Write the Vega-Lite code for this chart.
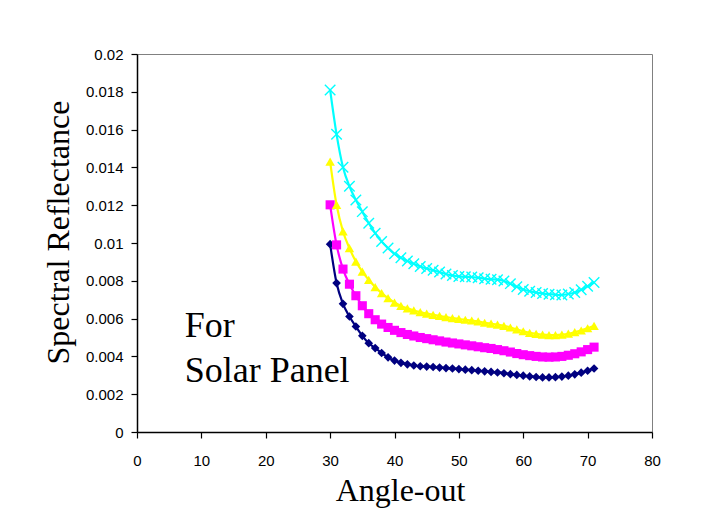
{
  "$schema": "https://vega.github.io/schema/vega-lite/v6.json",
  "width": 515,
  "height": 378,
  "autosize": {"type": "none"},
  "padding": {"left": 137, "top": 54, "right": 61, "bottom": 95},
  "background": "white",
  "config": {
    "view": {"stroke": "#808080", "strokeWidth": 1},
    "axis": {
      "grid": false,
      "domainColor": "black",
      "domainWidth": 1.5,
      "tickColor": "black",
      "tickWidth": 1.2,
      "tickSize": 6,
      "labelFont": "Liberation Sans",
      "labelFontSize": 15,
      "labelColor": "black",
      "titleFont": "Times New Roman",
      "titleFontSize": 32,
      "titleFontWeight": "normal",
      "titleColor": "black",
      "labelFlush": false
    }
  },
  "data": {
    "values": [
      {"s":"n","a":30,"r":0.00994},{"s":"n","a":31,"r":0.00788},{"s":"n","a":32,"r":0.00678},{"s":"n","a":33,"r":0.00611},{"s":"n","a":34,"r":0.00558},{"s":"n","a":35,"r":0.00509},{"s":"n","a":36,"r":0.0047},{"s":"n","a":37,"r":0.00444},{"s":"n","a":38,"r":0.00418},{"s":"n","a":39,"r":0.00395},{"s":"n","a":40,"r":0.00378},{"s":"n","a":41,"r":0.00366},{"s":"n","a":42,"r":0.00358},{"s":"n","a":43,"r":0.00352},{"s":"n","a":44,"r":0.00348},{"s":"n","a":45,"r":0.00346},{"s":"n","a":46,"r":0.00344},{"s":"n","a":47,"r":0.00341},{"s":"n","a":48,"r":0.00338},{"s":"n","a":49,"r":0.00336},{"s":"n","a":50,"r":0.00333},{"s":"n","a":51,"r":0.0033},{"s":"n","a":52,"r":0.00327},{"s":"n","a":53,"r":0.00324},{"s":"n","a":54,"r":0.00321},{"s":"n","a":55,"r":0.00318},{"s":"n","a":56,"r":0.00315},{"s":"n","a":57,"r":0.00311},{"s":"n","a":58,"r":0.00306},{"s":"n","a":59,"r":0.00302},{"s":"n","a":60,"r":0.00298},{"s":"n","a":61,"r":0.00294},{"s":"n","a":62,"r":0.00291},{"s":"n","a":63,"r":0.00289},{"s":"n","a":64,"r":0.00289},{"s":"n","a":65,"r":0.0029},{"s":"n","a":66,"r":0.00293},{"s":"n","a":67,"r":0.00298},{"s":"n","a":68,"r":0.00305},{"s":"n","a":69,"r":0.00314},{"s":"n","a":70,"r":0.00324},{"s":"n","a":71,"r":0.00336},
      {"s":"m","a":30,"r":0.01202},{"s":"m","a":31,"r":0.0099},{"s":"m","a":32,"r":0.00862},{"s":"m","a":33,"r":0.00782},{"s":"m","a":34,"r":0.00721},{"s":"m","a":35,"r":0.00668},{"s":"m","a":36,"r":0.00626},{"s":"m","a":37,"r":0.00594},{"s":"m","a":38,"r":0.00571},{"s":"m","a":39,"r":0.00553},{"s":"m","a":40,"r":0.00538},{"s":"m","a":41,"r":0.00526},{"s":"m","a":42,"r":0.00516},{"s":"m","a":43,"r":0.00508},{"s":"m","a":44,"r":0.005},{"s":"m","a":45,"r":0.00494},{"s":"m","a":46,"r":0.00488},{"s":"m","a":47,"r":0.00482},{"s":"m","a":48,"r":0.00476},{"s":"m","a":49,"r":0.00471},{"s":"m","a":50,"r":0.00466},{"s":"m","a":51,"r":0.00461},{"s":"m","a":52,"r":0.00456},{"s":"m","a":53,"r":0.00451},{"s":"m","a":54,"r":0.00446},{"s":"m","a":55,"r":0.00442},{"s":"m","a":56,"r":0.00436},{"s":"m","a":57,"r":0.0043},{"s":"m","a":58,"r":0.00423},{"s":"m","a":59,"r":0.00415},{"s":"m","a":60,"r":0.00409},{"s":"m","a":61,"r":0.00404},{"s":"m","a":62,"r":0.004},{"s":"m","a":63,"r":0.00397},{"s":"m","a":64,"r":0.00396},{"s":"m","a":65,"r":0.00397},{"s":"m","a":66,"r":0.004},{"s":"m","a":67,"r":0.00406},{"s":"m","a":68,"r":0.00414},{"s":"m","a":69,"r":0.00424},{"s":"m","a":70,"r":0.00436},{"s":"m","a":71,"r":0.00449},
      {"s":"y","a":30,"r":0.01431},{"s":"y","a":31,"r":0.01202},{"s":"y","a":32,"r":0.01061},{"s":"y","a":33,"r":0.00973},{"s":"y","a":34,"r":0.00902},{"s":"y","a":35,"r":0.00849},{"s":"y","a":36,"r":0.00805},{"s":"y","a":37,"r":0.00767},{"s":"y","a":38,"r":0.00735},{"s":"y","a":39,"r":0.00708},{"s":"y","a":40,"r":0.00685},{"s":"y","a":41,"r":0.00667},{"s":"y","a":42,"r":0.00654},{"s":"y","a":43,"r":0.00643},{"s":"y","a":44,"r":0.00634},{"s":"y","a":45,"r":0.00626},{"s":"y","a":46,"r":0.0062},{"s":"y","a":47,"r":0.00614},{"s":"y","a":48,"r":0.00608},{"s":"y","a":49,"r":0.00603},{"s":"y","a":50,"r":0.00598},{"s":"y","a":51,"r":0.00594},{"s":"y","a":52,"r":0.0059},{"s":"y","a":53,"r":0.00585},{"s":"y","a":54,"r":0.00578},{"s":"y","a":55,"r":0.00573},{"s":"y","a":56,"r":0.00568},{"s":"y","a":57,"r":0.00562},{"s":"y","a":58,"r":0.00553},{"s":"y","a":59,"r":0.00543},{"s":"y","a":60,"r":0.00533},{"s":"y","a":61,"r":0.00525},{"s":"y","a":62,"r":0.00519},{"s":"y","a":63,"r":0.00515},{"s":"y","a":64,"r":0.00513},{"s":"y","a":65,"r":0.00513},{"s":"y","a":66,"r":0.00515},{"s":"y","a":67,"r":0.0052},{"s":"y","a":68,"r":0.00528},{"s":"y","a":69,"r":0.00537},{"s":"y","a":70,"r":0.00549},{"s":"y","a":71,"r":0.00562},
      {"s":"c","a":30,"r":0.0181},{"s":"c","a":31,"r":0.01575},{"s":"c","a":32,"r":0.01401},{"s":"c","a":33,"r":0.013},{"s":"c","a":34,"r":0.01228},{"s":"c","a":35,"r":0.01166},{"s":"c","a":36,"r":0.01105},{"s":"c","a":37,"r":0.01052},{"s":"c","a":38,"r":0.01008},{"s":"c","a":39,"r":0.00973},{"s":"c","a":40,"r":0.00943},{"s":"c","a":41,"r":0.00922},{"s":"c","a":42,"r":0.00905},{"s":"c","a":43,"r":0.0089},{"s":"c","a":44,"r":0.00876},{"s":"c","a":45,"r":0.00865},{"s":"c","a":46,"r":0.00856},{"s":"c","a":47,"r":0.00846},{"s":"c","a":48,"r":0.00836},{"s":"c","a":49,"r":0.00828},{"s":"c","a":50,"r":0.00823},{"s":"c","a":51,"r":0.00821},{"s":"c","a":52,"r":0.0082},{"s":"c","a":53,"r":0.00816},{"s":"c","a":54,"r":0.00811},{"s":"c","a":55,"r":0.00808},{"s":"c","a":56,"r":0.00806},{"s":"c","a":57,"r":0.00799},{"s":"c","a":58,"r":0.00785},{"s":"c","a":59,"r":0.00768},{"s":"c","a":60,"r":0.00754},{"s":"c","a":61,"r":0.00745},{"s":"c","a":62,"r":0.00738},{"s":"c","a":63,"r":0.00733},{"s":"c","a":64,"r":0.00729},{"s":"c","a":65,"r":0.00726},{"s":"c","a":66,"r":0.00725},{"s":"c","a":67,"r":0.0073},{"s":"c","a":68,"r":0.00738},{"s":"c","a":69,"r":0.00753},{"s":"c","a":70,"r":0.00771},{"s":"c","a":71,"r":0.00791}
    ]
  },
  "encoding": {
    "x": {
      "field": "a", "type": "quantitative",
      "scale": {"domain": [0, 80], "nice": false},
      "axis": {
        "values": [0, 10, 20, 30, 40, 50, 60, 70, 80],
        "title": "Angle-out",
        "labelPadding": 15,
        "titleX": 263,
        "titleY": 68,
        "titleBaseline": "alphabetic",
        "titleAlign": "center"
      }
    },
    "y": {
      "field": "r", "type": "quantitative",
      "scale": {"domain": [0, 0.02], "nice": false},
      "axis": {
        "values": [0, 0.002, 0.004, 0.006, 0.008, 0.01, 0.012, 0.014, 0.016, 0.018, 0.02],
        "format": ".3~f",
        "title": "Spectral Reflectance",
        "labelPadding": 8,
        "titleAngle": -90,
        "titleX": -69,
        "titleY": 178,
        "titleBaseline": "alphabetic",
        "titleAlign": "center"
      }
    }
  },
  "layer": [
    {
      "mark": {"type": "line", "strokeWidth": 2.2, "interpolate": "monotone"},
      "encoding": {
        "color": {
          "field": "s", "type": "nominal",
          "scale": {"domain": ["n", "m", "y", "c"], "range": ["#000080", "#FF00FF", "#FFFF00", "#00FFFF"]},
          "legend": null
        },
        "detail": {"field": "s"}
      }
    },
    {
      "transform": [{"filter": "datum.s !== 'c'"}],
      "mark": {"type": "point", "filled": true, "opacity": 1},
      "encoding": {
        "color": {
          "field": "s", "type": "nominal",
          "scale": {"domain": ["n", "m", "y", "c"], "range": ["#000080", "#FF00FF", "#FFFF00", "#00FFFF"]},
          "legend": null
        },
        "shape": {
          "field": "s", "type": "nominal",
          "scale": {"domain": ["n", "m", "y"], "range": ["diamond", "square", "triangle-up"]},
          "legend": null
        },
        "size": {
          "field": "s", "type": "nominal",
          "scale": {"domain": ["n", "m", "y"], "range": [75, 90, 100]},
          "legend": null
        }
      }
    },
    {
      "transform": [{"filter": "datum.s === 'c'"}],
      "mark": {"type": "point", "filled": false, "shape": "M-1,-1L1,1M-1,1L1,-1", "size": 110, "strokeWidth": 1.4, "color": "#00FFFF", "opacity": 1}
    },
    {
      "data": {"values": [{"t": "For", "a": 7.4, "r": 0.00504}, {"t": "Solar Panel", "a": 7.4, "r": 0.00266}]},
      "mark": {"type": "text", "font": "Times New Roman", "fontSize": 36, "align": "left", "baseline": "alphabetic", "color": "black"},
      "encoding": {"text": {"field": "t"}}
    }
  ]
}
